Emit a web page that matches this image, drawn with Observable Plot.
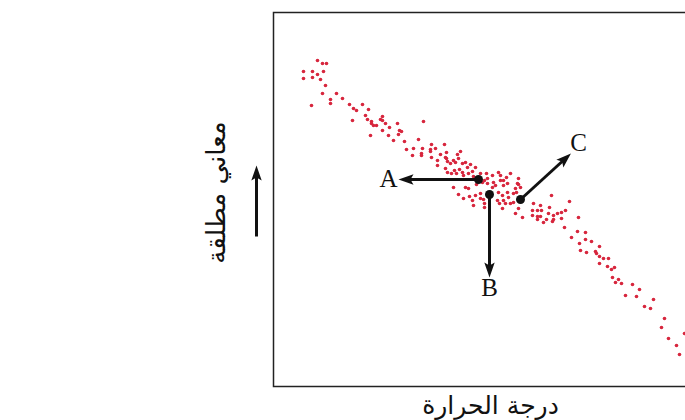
<!DOCTYPE html>
<html>
<head>
<meta charset="utf-8">
<script src="https://cdn.jsdelivr.net/npm/d3@7"></script>
<script src="https://cdn.jsdelivr.net/npm/@observablehq/plot@0.6"></script>
<style>
  html, body { margin: 0; padding: 0; background: #fff; overflow: hidden; width: 685px; height: 420px; }
  #chart svg { max-width: none !important; width: 700px !important; height: 420px !important; }
</style>
</head>
<body>
<div id="chart"></div>
<script>
// Temperature (x) vs energy (y), arbitrary units
const temperature = [44,49,53,30,39,50,44,30,39,47,52,49,63,57,69,57,38,76,89,80,83,95,79,92,94,109,107,109,98,98,100,103,112,124,116,126,128,150,109,97,115,125,120,131,145,133,140,149,158,162,171,157,157,148,148,139,158,167,173,173,184,187,164,164,172,174,177,182,180,185,189,192,194,197,202,172,174,178,181,183,186,189,190,195,199,200,207,213,203,211,214,180,192,195,185,190,196,199,200,202,207,210,211,219,225,227,237,233,209,214,220,222,227,230,230,234,245,244,247,242,240,225,229,234,207,224,230,232,237,240,235,229,242,249,260,259,264,259,264,219,245,226,243,211,245,278,296,267,276,268,275,280,284,288,292,267,264,270,273,279,280,288,305,291,298,304,312,318,306,312,307,313,326,322,323,326,330,335,326,334,341,338,339,345,342,348,359,366,352,363,380,371,377,391,388,395,411,403,406];
const energy = [326,323,323,315,315,315,312,308,309,307,301,293,293,287,288,283,281,282,282,278,276,277,266,271,267,270,267,266,265,263,261,261,263,263,259,256,255,265,256,251,251,252,246,245,247,237,238,238,242,238,242,237,235,233,231,231,229,232,234,228,232,235,226,221,229,225,223,224,226,228,223,224,219,222,219,218,214,213,216,213,217,214,211,213,215,210,213,213,202,206,203,199,199,198,192,188,190,186,181,191,193,187,183,211,214,211,213,209,204,208,204,201,206,206,201,203,208,203,199,198,193,194,191,194,188,186,186,183,183,184,189,178,173,169,183,176,176,171,170,199,202,183,194,179,178,191,185,181,179,176,173,171,173,174,176,170,167,164,167,165,167,168,169,159,149,155,154,145,143,147,136,134,140,135,133,130,128,128,123,120,119,117,109,107,104,103,102,97,91,90,87,80,78,68,59,48,53,41,32];

// Annotated states
const stateLabels = ["A", "B", "C"];
const stateStartX = [205, 216, 247];
const stateStartY = [207, 192, 187];
const stateEndX   = [131, 216, 293];
const stateEndY   = [207, 115, 229];
const labelX = [115, 216, 305];
const labelY = [208, 99, 244];

// Axis titles and axis arrow
const xTitle = "درجة الحرارة";
const yTitle = "معاني مطلقة";
const axisArrow = {x1: -17, y1: 150, x2: -17, y2: 215};

const points = temperature.map((t, i) => ({t, e: energy[i]}));
const states = stateLabels.map((s, i) => ({
  s, x1: stateStartX[i], y1: stateStartY[i], x2: stateEndX[i], y2: stateEndY[i], lx: labelX[i], ly: labelY[i]
}));

const plot = Plot.plot({
  width: 700,
  height: 420,
  marginLeft: 273,
  marginRight: 7,
  marginTop: 12,
  marginBottom: 34,
  x: {axis: null, domain: [0, 420]},
  y: {axis: null, domain: [0, 374]},
  style: {background: "#fff", overflow: "visible", maxWidth: "none"},
  marks: [
    Plot.frame({stroke: "#222", strokeWidth: 1.5}),
    Plot.dot(points, {x: "t", y: "e", r: 1.8, fill: "#d7263d", stroke: "none"}),
    Plot.link(states, {x1: "x1", y1: "y1", x2: "x2", y2: "y2", stroke: "#111", strokeWidth: 3, markerEnd: "arrow"}),
    Plot.link([axisArrow], {x1: "x1", y1: "y1", x2: "x2", y2: "y2", stroke: "#111", strokeWidth: 3, markerEnd: "arrow"}),
    Plot.dot(states, {x: "x1", y: "y1", r: 4.5, fill: "#111", stroke: "none"}),
    Plot.text(states, {x: "lx", y: "ly", text: "s", fontFamily: "Liberation Serif", fontSize: 25, fill: "#111"}),
    Plot.text([xTitle], {x: () => 217, y: () => -19, text: d => d, fontFamily: "DejaVu Sans", fontSize: 25, fill: "#111"}),
    Plot.text([yTitle], {x: () => -57, y: () => 194, text: d => d, rotate: -90, fontFamily: "DejaVu Sans", fontSize: 26, fill: "#111"})
  ]
});

// Filled, narrow arrowheads like the reference
d3.select(plot).selectAll("marker").each(function () {
  const m = d3.select(this);
  m.selectAll("*").remove();
  m.attr("fill", "#111").attr("stroke", "none");
  m.append("path").attr("d", "M3,0L-4.5,-2.6L-3,0L-4.5,2.6Z");
});

document.getElementById("chart").appendChild(plot);
</script>
</body>
</html>
